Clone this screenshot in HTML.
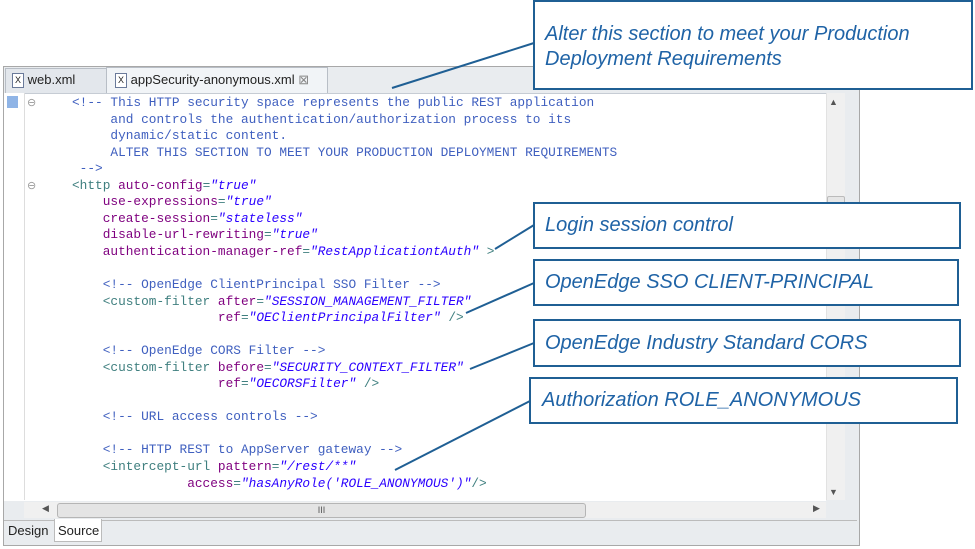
<!DOCTYPE html>
<html><head><style>
body{margin:0;width:975px;height:549px;background:#fff;position:relative;overflow:hidden;font-family:"Liberation Sans",sans-serif}
.a{position:absolute}
#win{left:3px;top:66px;width:855px;height:478px;border:1px solid #a8a8a8;background:#e9ecef}
pre{margin:0;position:absolute;left:72px;top:95px;font-family:"Liberation Mono",monospace;font-size:12.8px;line-height:16.55px;color:#3f7f7f}
.c{color:#3f5fbf}.t{color:#3f7f7f}.n{color:#7f007f}.v{color:#2a00ff;font-style:italic}
.box{position:absolute;background:#fff;border:2px solid #1f5f94;color:#1f63a6;font-style:italic;font-size:20px;box-sizing:border-box;padding-left:10px}
</style></head><body>
<div class="a" id="win"></div>
<!-- tabs -->
<div class="a" style="left:5px;top:68px;width:100px;height:25px;background:#e3e7ec;border:1px solid #b8bec6;border-bottom:none"></div>
<div class="a" style="left:106px;top:67px;width:220px;height:27px;background:#f1f4f7;border:1px solid #b8bec6;border-bottom:none"></div>
<div class="a" style="left:12px;top:72px;font-size:13px;color:#222">
<span style="display:inline-block;width:10px;height:13px;border:1px solid #6a7a9a;font-size:9px;line-height:13px;text-align:center;background:#fff;vertical-align:middle">X</span> web.xml</div>
<div class="a" style="left:115px;top:72px;font-size:13px;color:#222">
<span style="display:inline-block;width:10px;height:13px;border:1px solid #6a7a9a;font-size:9px;line-height:13px;text-align:center;background:#fff;vertical-align:middle">X</span> appSecurity-anonymous.xml <span style="color:#888">⊠</span></div>
<!-- editor area -->
<div class="a" style="left:4px;top:93px;width:822px;height:407px;background:#fff;border-top:1px solid #c6ccd4"></div>
<div class="a" style="left:4px;top:93px;width:20px;height:407px;background:#fff;border-right:1px solid #ddd"></div>
<div class="a" style="left:7px;top:96px;width:11px;height:12px;background:#8fb4e6"></div>
<div class="a" style="left:27px;top:96px;font-size:11px;color:#999">⊖</div>
<div class="a" style="left:27px;top:179px;font-size:11px;color:#999">⊖</div>
<!-- vertical scrollbar -->
<div class="a" style="left:826px;top:93px;width:18px;height:407px;background:#f0f0f0;border-left:1px solid #e2e2e2"></div>
<div class="a" style="left:829px;top:97px;font-size:9px;color:#555">▲</div>
<div class="a" style="left:829px;top:487px;font-size:9px;color:#555">▼</div>
<div class="a" style="left:827px;top:196px;width:16px;height:8px;background:#e6e6e6;border:1px solid #bbb;border-radius:2px"></div>
<!-- horizontal scrollbar -->
<div class="a" style="left:24px;top:502px;width:802px;height:16px;background:#f0f0f0"></div>
<div class="a" style="left:57px;top:503px;width:527px;height:13px;background:#e4e4e4;border:1px solid #b5b5b5;border-radius:3px;text-align:center;font-size:9px;color:#555;line-height:13px">III</div>
<div class="a" style="left:42px;top:503px;font-size:9px;color:#555">◀</div>
<div class="a" style="left:813px;top:503px;font-size:9px;color:#555">▶</div>
<!-- bottom tabs -->
<div class="a" style="left:4px;top:520px;width:853px;height:1px;background:#bbb"></div>
<div class="a" style="left:8px;top:523px;font-size:13px;color:#222">Design</div>
<div class="a" style="left:54px;top:519px;width:46px;height:22px;background:#fff;border:1px solid #bbb;border-top:none"></div>
<div class="a" style="left:58px;top:523px;font-size:13px;color:#222">Source</div>
<pre><span class="c">&lt;!-- This HTTP security space represents the public REST application
     and controls the authentication/authorization process to its
     dynamic/static content.
     ALTER THIS SECTION TO MEET YOUR PRODUCTION DEPLOYMENT REQUIREMENTS
 --&gt;</span>
&lt;http <span class="n">auto-config</span>=<span class="v">"true"</span>
    <span class="n">use-expressions</span>=<span class="v">"true"</span>
    <span class="n">create-session</span>=<span class="v">"stateless"</span>
    <span class="n">disable-url-rewriting</span>=<span class="v">"true"</span>
    <span class="n">authentication-manager-ref</span>=<span class="v">"RestApplicationtAuth"</span> &gt;

    <span class="c">&lt;!-- OpenEdge ClientPrincipal SSO Filter --&gt;</span>
    &lt;custom-filter <span class="n">after</span>=<span class="v">"SESSION_MANAGEMENT_FILTER"</span>
                   <span class="n">ref</span>=<span class="v">"OEClientPrincipalFilter"</span> /&gt;

    <span class="c">&lt;!-- OpenEdge CORS Filter --&gt;</span>
    &lt;custom-filter <span class="n">before</span>=<span class="v">"SECURITY_CONTEXT_FILTER"</span>
                   <span class="n">ref</span>=<span class="v">"OECORSFilter"</span> /&gt;

    <span class="c">&lt;!-- URL access controls --&gt;</span>

    <span class="c">&lt;!-- HTTP REST to AppServer gateway --&gt;</span>
    &lt;intercept-url <span class="n">pattern</span>=<span class="v">"/rest/**"</span>
               <span class="n">access</span>=<span class="v">"hasAnyRole('ROLE_ANONYMOUS')"</span>/&gt;</pre>
<!-- leader lines -->
<svg class="a" style="left:0;top:0" width="975" height="549">
<g stroke="#1f5f94" stroke-width="2">
<line x1="534" y1="43" x2="392" y2="88"/>
<line x1="534" y1="225" x2="495" y2="249"/>
<line x1="534" y1="283" x2="466" y2="313"/>
<line x1="534" y1="343" x2="470" y2="369"/>
<line x1="530" y1="401" x2="395" y2="470"/>
</g></svg>
<div class="box" style="left:533px;top:0;width:440px;height:90px;padding-top:20px;line-height:25px">Alter this section to meet your Production<br>Deployment Requirements</div>
<div class="box" style="left:533px;top:202px;width:428px;height:47px;line-height:43px">Login session control</div>
<div class="box" style="left:533px;top:259px;width:426px;height:47px;line-height:43px">OpenEdge SSO CLIENT-PRINCIPAL</div>
<div class="box" style="left:533px;top:319px;width:428px;height:48px;line-height:44px">OpenEdge Industry Standard CORS</div>
<div class="box" style="left:529px;top:377px;width:429px;height:47px;line-height:43px;padding-left:11px">Authorization ROLE_ANONYMOUS</div>
</body></html>
